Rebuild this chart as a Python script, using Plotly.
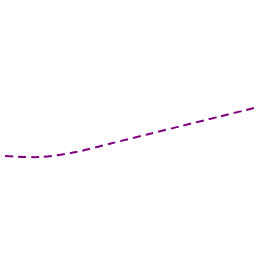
import plotly.graph_objects as go

x_vals = [0, 1, 2, 3, 4, 5, 6, 7]
y_vals = [100, 99, 104, 112.8, 121.5, 130.4, 139.1, 148]

fig = go.Figure()
fig.add_trace(go.Scatter(
    x=x_vals, y=y_vals, mode="lines",
    line=dict(color="#800080", width=2, dash="8px,5px", shape="spline", smoothing=0.8),
    hoverinfo="skip", showlegend=False,
))
fig.update_layout(
    width=256, height=256,
    margin=dict(l=0, r=0, t=0, b=0),
    paper_bgcolor="white", plot_bgcolor="white",
    xaxis=dict(visible=False, range=[-5/35.57, 251/35.57]),
    yaxis=dict(visible=False, range=[0, 256]),
)
fig.write_html("out.html")
